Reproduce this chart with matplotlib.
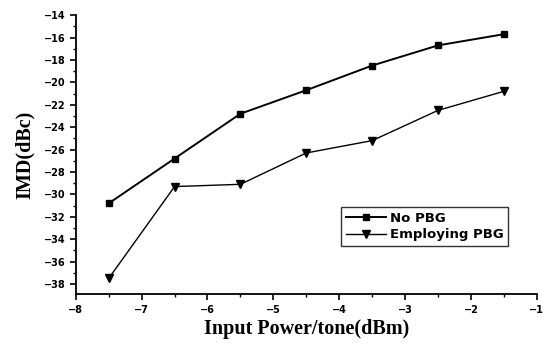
import matplotlib
matplotlib.use('Agg')
import matplotlib.pyplot as plt
from matplotlib.ticker import MultipleLocator

# datos
potencia = [-7.5, -6.5, -5.5, -4.5, -3.5, -2.5, -1.5]
imd_sin_pbg = [-30.8, -26.8, -22.8, -20.7, -18.5, -16.7, -15.7]
imd_con_pbg = [-37.5, -29.3, -29.1, -26.3, -25.2, -22.5, -20.8]

fig = plt.figure(figsize=(5.45, 3.44), dpi=100)
ax = fig.add_axes([0.139, 0.145, 0.846, 0.811])

ax.plot(potencia, imd_sin_pbg, color='black', lw=1.4, marker='s', ms=5, label='No PBG')
ax.plot(potencia, imd_con_pbg, color='black', lw=1.0, marker='v', ms=6, label='Employing PBG')

ax.set_xlim(-8, -1)
ax.set_ylim(-38.9, -14)
ax.xaxis.set_major_locator(MultipleLocator(1))
ax.xaxis.set_minor_locator(MultipleLocator(0.5))
ax.yaxis.set_major_locator(MultipleLocator(2))
ax.yaxis.set_minor_locator(MultipleLocator(1))

for s in ['top', 'right']:
    ax.spines[s].set_visible(False)
for s in ['left', 'bottom']:
    ax.spines[s].set_linewidth(1.3)

ax.tick_params(which='major', direction='out', length=4, width=1.2, labelsize=7)
ax.tick_params(which='minor', direction='out', length=2.5, width=1)
for lab in ax.get_xticklabels() + ax.get_yticklabels():
    lab.set_fontweight('bold')

ax.set_xlabel('Input Power/tone(dBm)', family='Liberation Serif', fontsize=14.5, fontweight='bold', labelpad=3)
ax.set_ylabel('IMD(dBc)', family='Liberation Serif', fontsize=14.5, fontweight='bold', labelpad=6)

leg = ax.legend(loc='upper left', bbox_to_anchor=(0.562, 0.335), fancybox=False,
                edgecolor='black', fontsize=9.5, handlelength=3.0,
                borderpad=0.35, labelspacing=0.25, handletextpad=0.3)
leg.get_frame().set_linewidth(1.0)
for t in leg.get_texts():
    t.set_fontweight('bold')

fig.savefig('out.png', dpi=100)
